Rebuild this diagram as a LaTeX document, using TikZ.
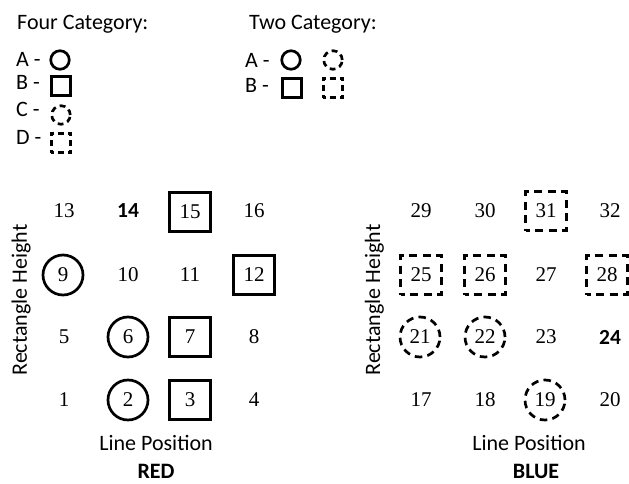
\documentclass[tikz,border=0pt]{standalone}
\usepackage{fontspec}
\setmainfont{Carlito}
\newfontfamily\numf{Liberation Serif}
\tikzset{
 lbl/.style={font=\fontsize{22}{26}\selectfont, inner sep=0},
 blbl/.style={font=\bfseries\fontsize{22}{26}\selectfont, inner sep=0},
 num/.style={font=\numf\fontsize{21}{25}\selectfont, inner sep=0},
 bnum/.style={font=\bfseries\fontsize{21.5}{25}\selectfont, inner sep=0},
 ring/.style={num, circle, draw, line width=2.7pt, minimum size=40pt},
 boxed/.style={num, rectangle, draw, line width=2.7pt, minimum width=40.5pt, minimum height=39.5pt},
 dashring/.style={ring, dash pattern=on 7.5pt off 5.2pt},
 dashbox/.style={boxed, dash pattern=on 7.8pt off 5.7pt, dash phase=3.9pt},
 lring/.style={circle, draw, line width=2.7pt, minimum size=18.5pt, inner sep=0},
 lbox/.style={rectangle, draw, line width=2.7pt, minimum size=19.5pt, inner sep=0},
 ldashring/.style={lring, dash pattern=on 5.8pt off 4.2pt},
 ldashbox/.style={lbox, dash pattern=on 5.5pt off 4.25pt, dash phase=2.75pt},
}
\begin{document}
\begin{tikzpicture}[x=1pt,y=-1pt]
\useasboundingbox (0,0) rectangle (629,484);
% legend
\node[lbl, anchor=base west] (fourcat) at (17,30) {Four Category:};
\node[lbl, anchor=base west] (la) at (16,67) {A -};
\node[lbl, anchor=base west] (lb) at (16,90) {B -};
\node[lbl, anchor=base west] (lc) at (16,117) {C -};
\node[lbl, anchor=base west] (ld) at (16,145) {D -};
\node[lring] (sa) at (60,60) {};
\node[lbox] (sb) at (61,86) {};
\node[ldashring] (sc) at (61,115) {};
\node[ldashbox] (sd) at (61,143) {};
\node[lbl, anchor=base west] (twocat) at (249,30) {Two Category:};
\node[lbl, anchor=base west] (ta) at (245,68) {A -};
\node[lbl, anchor=base west] (tb) at (245,93) {B -};
\node[lring] (tsa) at (291,60) {};
\node[ldashring] (tsa2) at (333,60) {};
\node[lbox] (tsb) at (292,88) {};
\node[ldashbox] (tsb2) at (333,88) {};
% RED grid
\node[num] (n13) at (64,211) {13};
\node[bnum] (n14) at (128,211) {14};
\node[boxed] (n15) at (190,212) {15};
\node[num] (n16) at (254,211) {16};
\node[ring] (n9) at (63,275) {9};
\node[num] (n10) at (128,275) {10};
\node[num] (n11) at (190,275) {11};
\node[boxed] (n12) at (254,275) {12};
\node[num] (n5) at (64,337) {5};
\node[ring] (n6) at (128,337) {6};
\node[boxed] (n7) at (190,337) {7};
\node[num] (n8) at (254,337) {8};
\node[num] (n1) at (64,400) {1};
\node[ring] (n2) at (128,400) {2};
\node[boxed] (n3) at (190,400) {3};
\node[num] (n4) at (254,400) {4};
\node[lbl, rotate=90, anchor=base] (rhred) at (27,300) {Rectangle Height};
\node[lbl, anchor=base] (lpred) at (156,450) {Line Position};
\node[blbl, anchor=base] (red) at (156,478) {RED};
% BLUE grid
\node[num] (n29) at (421,211) {29};
\node[num] (n30) at (485,211) {30};
\node[dashbox] (n31) at (546,211) {31};
\node[num] (n32) at (610,211) {32};
\node[dashbox] (n25) at (421,275) {25};
\node[dashbox] (n26) at (485,275) {26};
\node[num] (n27) at (546,275) {27};
\node[dashbox] (n28) at (607,275) {28};
\node[dashring] (n21) at (420,337) {21};
\node[dashring] (n22) at (485,337) {22};
\node[num] (n23) at (546,337) {23};
\node[bnum] (n24) at (610,337) {24};
\node[num] (n17) at (421,400) {17};
\node[num] (n18) at (485,400) {18};
\node[dashring] (n19) at (545,400) {19};
\node[num] (n20) at (610,400) {20};
\node[lbl, rotate=90, anchor=base] (rhblue) at (380,300) {Rectangle Height};
\node[lbl, anchor=base] (lpblue) at (529,450) {Line Position};
\node[blbl, anchor=base] (blue) at (536,478) {BLUE};
\end{tikzpicture}
\end{document}
